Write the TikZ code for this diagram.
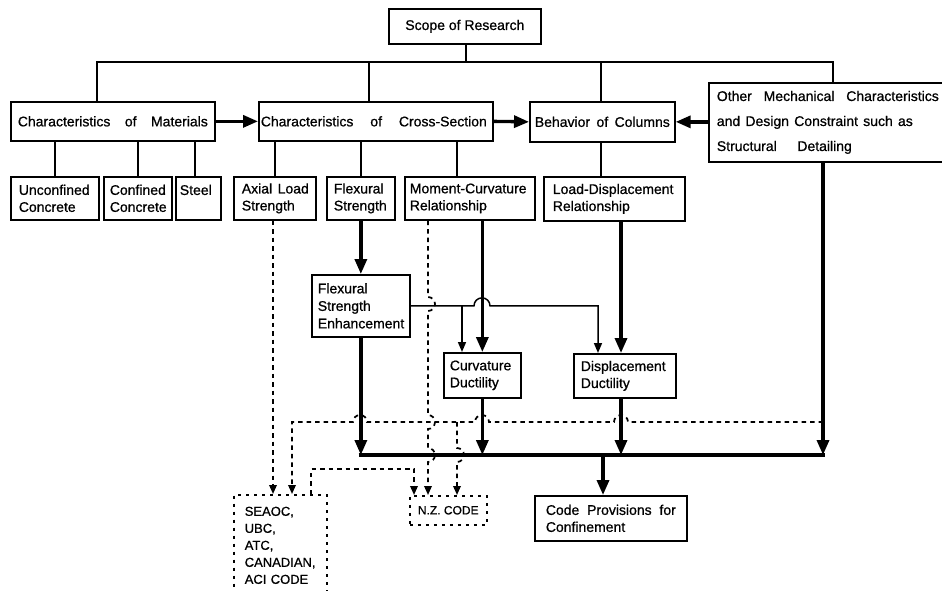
\documentclass[tikz,border=0pt]{standalone}
\usepackage{fontspec}
\setmainfont{Liberation Sans}[FakeBold=0.8]
\usetikzlibrary{arrows.meta}
\newcommand\spreadtext[2]{\makebox[#1][s]{\spaceskip=0.25em plus 1fill\relax #2}}
\begin{document}
\begin{tikzpicture}[x=1pt,y=-1pt,
  box/.style={draw, line width=1.7pt, anchor=north west, align=left, inner ysep=0pt,
              font=\fontsize{14}{17}\selectfont},
  dbox/.style={box, line width=1.5pt, dash pattern=on 3pt off 5pt},
  ln/.style={line width=1.5pt},
  thk/.style={line width=3.3pt},
  dsh/.style={line width=1.7pt, dash pattern=on 4.5pt off 4pt},
  bigarr/.style={-{Triangle[length=15pt,width=12pt]}},
  smarr/.style={-{Triangle[length=10pt,width=8pt]}},
  darr/.style={-{Triangle[length=9pt,width=7.5pt]}}]
\useasboundingbox (0,0) rectangle (942,590);

% ---------- boxes ----------
\node[box, minimum width=152pt, minimum height=35pt, align=center, inner xsep=2pt] (top) at (388,8) {Scope of Research};

\node[box, minimum width=204pt, minimum height=39pt, inner xsep=7pt, text width=190pt] (mat) at (10,101)
  {\spreadtext{190pt}{Characteristics of Materials}};
\node[box, minimum width=234pt, minimum height=39pt, inner xsep=2pt, text width=230pt] (cs) at (258,101)
  {\spreadtext{226pt}{Characteristics of Cross-Section}};
\node[box, minimum width=145pt, minimum height=40pt, inner xsep=5pt, text width=135pt] (beh) at (529,101)
  {\spreadtext{135pt}{Behavior of Columns}};
\node[box, minimum width=238pt, minimum height=79pt, inner xsep=8pt, text width=222pt,
      font=\fontsize{14}{25}\selectfont] (oth) at (708,82)
  {\spreadtext{222pt}{Other Mechanical Characteristics}\\
   \spreadtext{196pt}{and Design Constraint such as}\\
   \spreadtext{135pt}{Structural Detailing}};

\node[box, minimum width=88pt, minimum height=43pt, inner xsep=8pt, text width=72pt] (unc) at (10,176) {Unconfined\\Concrete};
\node[box, minimum width=68pt, minimum height=43pt, inner xsep=6pt, text width=56pt] (con) at (103,176) {Confined\\Concrete};
\node[box, minimum width=45pt, minimum height=43pt, inner xsep=4pt, text width=37pt] (stl) at (175,176) {Steel\\\mbox{}};
\node[box, minimum width=82pt, minimum height=43pt, inner xsep=8pt, text width=66pt] (axl) at (233,176)
  {\spreadtext{67pt}{Axial Load}\\Strength};
\node[box, minimum width=68pt, minimum height=43pt, inner xsep=7pt, text width=54pt] (fls) at (326,176) {Flexural\\Strength};
\node[box, minimum width=130pt, minimum height=43pt, inner xsep=5pt, text width=120pt] (mom) at (404,176) {Moment-Curvature\\Relationship};
\node[box, minimum width=141pt, minimum height=44pt, inner xsep=9pt, text width=123pt] (lod) at (543,176) {Load-Displacement\\Relationship};

\node[box, minimum width=98pt, minimum height=62pt, inner xsep=6pt, text width=86pt,
      font=\fontsize{14}{17.5}\selectfont] (fse) at (311,274) {Flexural\\Strength\\Enhancement};
\node[box, minimum width=77pt, minimum height=45pt, inner xsep=6pt, text width=65pt] (cur) at (443,352) {Curvature\\Ductility};
\node[box, minimum width=102pt, minimum height=44pt, inner xsep=7pt, text width=88pt] (dis) at (573,353) {Displacement\\Ductility};

\node[box, minimum width=152pt, minimum height=45pt, inner xsep=11pt, text width=130pt] (code) at (534,495)
  {\spreadtext{130pt}{Code Provisions for}\\Confinement};
\node[dbox, minimum width=77pt, minimum height=29pt, align=center, inner xsep=2pt,
      font=\fontsize{12}{14}\selectfont] (nz) at (409,495) {N.Z. CODE};
\node[dbox, minimum width=93pt, inner xsep=11pt, inner ysep=12pt, text width=71pt,
      font=\fontsize{13}{17}\selectfont] (sea) at (233,494) {SEAOC,\\UBC,\\ATC,\\CANADIAN,\\ACI CODE};

% ---------- helper coordinates ----------
\coordinate (b0) at (466,62);
\coordinate (b1) at (97,62);
\coordinate (b2) at (369,62);
\coordinate (b3) at (601,62);
\coordinate (b4) at (833,62);
\coordinate (xmom) at (457,0);
\coordinate (xstl) at (195,0);
\coordinate (xo) at (823,0);
\coordinate (x621) at (621,0);
\coordinate (x603) at (603,0);
\coordinate (x474) at (474,0);
\coordinate (x598) at (598,0);
\coordinate (x462) at (462,0);
\coordinate (x428) at (428,0);
\coordinate (x457) at (457,0);
\coordinate (x414) at (414,0);
\coordinate (x311) at (311,0);
\coordinate (x292) at (292,0);
\coordinate (x273) at (273,0);
\coordinate (busy) at (0,455);
\coordinate (busL) at (358.5,455);
\coordinate (busR) at (824.5,455);

% ---------- top tree ----------
\draw[ln] (top.south -| b0) -- (b0);
\draw[ln] (b1 |- mat.north) -- (b1) -- (b4) -- (b4 |- oth.north);
\draw[ln] (b2) -- (b2 |- cs.north);
\draw[ln] (b3) -- (b3 |- beh.north);

% ---------- horizontal thick arrows ----------
\draw[thk,bigarr] (mat.east) -- (cs.west);
\draw[thk,bigarr] (cs.east) -- (beh.west);
\draw[thk,bigarr] (oth.west |- beh.east) -- (beh.east);

% ---------- second level ----------
\draw[ln] (unc.north |- mat.south) -- (unc.north);
\draw[ln] (con.north |- mat.south) -- (con.north);
\draw[ln] (xstl |- mat.south) -- (xstl |- stl.north);
\draw[ln] (axl.north |- cs.south) -- (axl.north);
\draw[ln] (fls.north |- cs.south) -- (fls.north);
\draw[ln] (xmom |- cs.south) -- (xmom |- mom.north);
\draw[ln] (b3 |- beh.south) -- (b3 |- lod.north);

% ---------- solid flow ----------
\draw[thk,bigarr] (fls.south) -- (fls.south |- fse.north);
\draw[thk,bigarr] (cur.north |- mom.south) -- (cur.north);
\draw[thk,bigarr] (x621 |- lod.south) -- (x621 |- dis.north);

\coordinate (h0) at (fse.east);
\draw[ln,smarr] (h0) -- (h0 -| x474) arc[start angle=180,end angle=0,radius=8pt]
   -- (h0 -| x598) -- (x598 |- dis.north);
\draw[ln,smarr] (h0 -| x462) -- (x462 |- cur.north);

% ---------- bus ----------
\draw[thk] (busL) -- (busR);
\draw[thk,bigarr] (fse.south) -- (fse.south |- busy);
\draw[thk,bigarr] (cur.south) -- (cur.south |- busy);
\draw[thk,bigarr] (x621 |- dis.south) -- (x621 |- busy);
\draw[thk,bigarr] (xo |- oth.south) -- (xo |- busy);
\draw[thk,bigarr] (x603 |- busy) -- (x603 |- code.north);

% ---------- dashed links ----------
\draw[dsh,darr] (x273 |- axl.south) -- (x273 |- sea.north);

\draw[dsh,darr] (x428 |- mom.south) -- (428,297) arc[start angle=90,end angle=-90,radius=7pt]
   -- (428,415) arc[start angle=90,end angle=-90,radius=7pt]
   -- (428,448) arc[start angle=90,end angle=-90,radius=7pt]
   -- (x428 |- nz.north);

\coordinate (d3s) at (823,422);
\coordinate (j2) at (457,422);
\draw[dsh,darr] (d3s) -- (628,422) arc[start angle=0,end angle=180,radius=7pt]
   -- (489,422) arc[start angle=0,end angle=180,radius=7pt]
   -- (367,422) arc[start angle=0,end angle=180,radius=7pt]
   -- (292,422) -- (x292 |- sea.north);
\draw[dsh,darr] (j2) -- (457,448) arc[start angle=90,end angle=-90,radius=7pt] -- (x457 |- nz.north);

\coordinate (c4a) at (311,469);
\coordinate (c4b) at (414,469);
\draw[dsh,darr] (x311 |- sea.north) -- (c4a) -- (c4b) -- (x414 |- nz.north);

\end{tikzpicture}
\end{document}
